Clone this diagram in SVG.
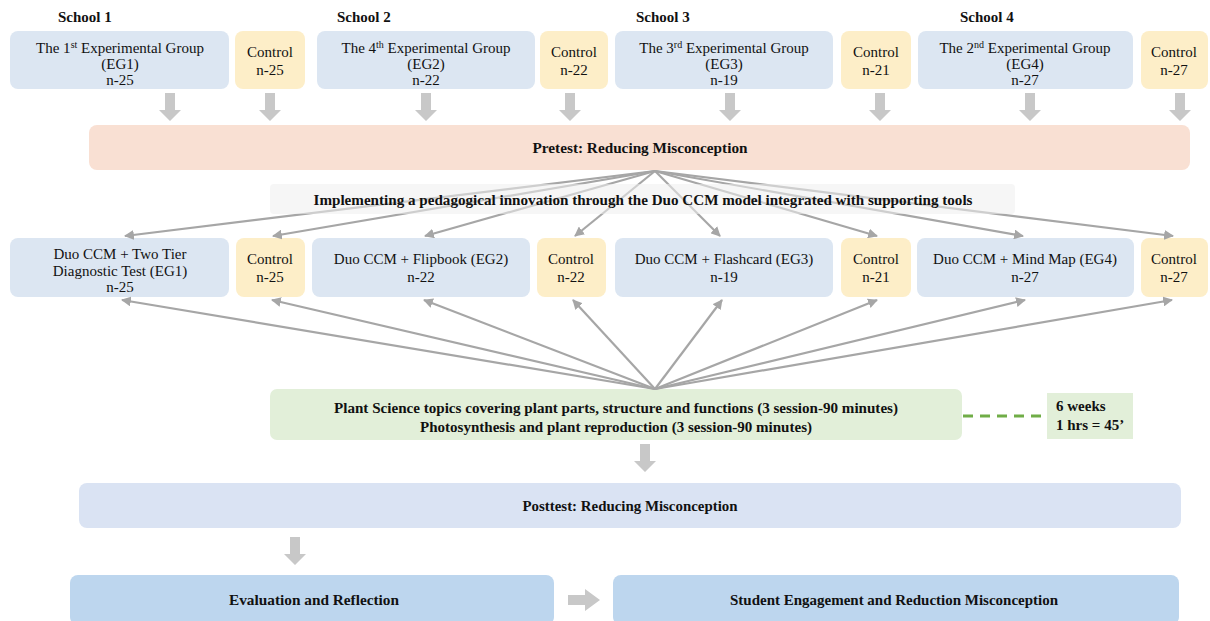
<svg xmlns="http://www.w3.org/2000/svg" width="1210" height="621" viewBox="0 0 1210 621">
<style>
text{font-family:"Liberation Serif","Times New Roman",serif;fill:#111}
.n{font-size:15px}
.b{font-size:14px;font-weight:bold}
.s{font-size:15px;font-weight:bold}
.blue{fill:#dce6f2}
.ctl{fill:#fdeec8}
.fan{stroke:#a6a6a6;stroke-width:2.2;fill:none;marker-end:url(#ah)}
.blk{fill:#c8c8c8}
</style>
<defs>
<marker id="ah" viewBox="0 0 10 10" refX="9" refY="5" markerWidth="4.5" markerHeight="4.5" orient="auto" markerUnits="strokeWidth">
<path d="M0,0 L10,5 L0,10 z" fill="#a6a6a6"/>
</marker>
<path id="dn" d="M-5,0 H5 V17 H11 L0,28 L-11,17 H-5 Z"/>
</defs>
<rect width="1210" height="621" fill="#fff"/>

<g id="schools">
<text class="s" x="58" y="22">School 1</text>
<text class="s" x="337" y="22">School 2</text>
<text class="s" x="636" y="22">School 3</text>
<text class="s" x="960" y="22">School 4</text>
</g>

<g id="top-eg1"><rect class="blue" x="10" y="31" width="219" height="58" rx="8"/>
<text class="n" x="120" y="53" text-anchor="middle">The 1<tspan font-size="10" dy="-5">st</tspan><tspan dy="5"> Experimental Group</tspan></text>
<text class="n" x="120" y="69" text-anchor="middle">(EG1)</text>
<text class="n" x="120" y="85" text-anchor="middle">n-25</text></g>
<g id="top-c1"><rect class="ctl" x="235" y="31" width="70" height="58" rx="8"/>
<text class="n" x="270" y="57" text-anchor="middle">Control</text>
<text class="n" x="270" y="75" text-anchor="middle">n-25</text></g>
<g id="top-eg2"><rect class="blue" x="317" y="31" width="218" height="58" rx="8"/>
<text class="n" x="426" y="53" text-anchor="middle">The 4<tspan font-size="10" dy="-5">th</tspan><tspan dy="5"> Experimental Group</tspan></text>
<text class="n" x="426" y="69" text-anchor="middle">(EG2)</text>
<text class="n" x="426" y="85" text-anchor="middle">n-22</text></g>
<g id="top-c2"><rect class="ctl" x="540" y="31" width="68" height="58" rx="8"/>
<text class="n" x="574" y="57" text-anchor="middle">Control</text>
<text class="n" x="574" y="75" text-anchor="middle">n-22</text></g>
<g id="top-eg3"><rect class="blue" x="615" y="31" width="218" height="58" rx="8"/>
<text class="n" x="724" y="53" text-anchor="middle">The 3<tspan font-size="10" dy="-5">rd</tspan><tspan dy="5"> Experimental Group</tspan></text>
<text class="n" x="724" y="69" text-anchor="middle">(EG3)</text>
<text class="n" x="724" y="85" text-anchor="middle">n-19</text></g>
<g id="top-c3"><rect class="ctl" x="841" y="31" width="70" height="58" rx="8"/>
<text class="n" x="876" y="57" text-anchor="middle">Control</text>
<text class="n" x="876" y="75" text-anchor="middle">n-21</text></g>
<g id="top-eg4"><rect class="blue" x="918" y="31" width="215" height="58" rx="8"/>
<text class="n" x="1025" y="53" text-anchor="middle">The 2<tspan font-size="10" dy="-5">nd</tspan><tspan dy="5"> Experimental Group</tspan></text>
<text class="n" x="1025" y="69" text-anchor="middle">(EG4)</text>
<text class="n" x="1025" y="85" text-anchor="middle">n-27</text></g>
<g id="top-c4"><rect class="ctl" x="1141" y="31" width="67" height="58" rx="8"/>
<text class="n" x="1174" y="57" text-anchor="middle">Control</text>
<text class="n" x="1174" y="75" text-anchor="middle">n-27</text></g>

<g id="pretest"><rect x="89" y="125" width="1101" height="45" rx="8" fill="#f9e0d3"/>
<text class="b" x="640" y="153" text-anchor="middle" textLength="215" lengthAdjust="spacingAndGlyphs">Pretest: Reducing Misconception</text></g>

<g id="r2-eg1"><rect class="blue" x="10" y="238" width="219" height="59" rx="8"/>
<text class="n" x="120" y="259" text-anchor="middle">Duo CCM + Two Tier</text>
<text class="n" x="120" y="276" text-anchor="middle">Diagnostic Test (EG1)</text>
<text class="n" x="120" y="292" text-anchor="middle">n-25</text></g>
<g id="r2-c1"><rect class="ctl" x="236" y="238" width="69" height="59" rx="8"/>
<text class="n" x="270" y="264" text-anchor="middle">Control</text>
<text class="n" x="270" y="282" text-anchor="middle">n-25</text></g>
<g id="r2-eg2"><rect class="blue" x="312" y="238" width="218" height="59" rx="8"/>
<text class="n" x="421" y="264" text-anchor="middle">Duo CCM + Flipbook (EG2)</text>
<text class="n" x="421" y="282" text-anchor="middle">n-22</text></g>
<g id="r2-c2"><rect class="ctl" x="537" y="238" width="69" height="59" rx="8"/>
<text class="n" x="571" y="264" text-anchor="middle">Control</text>
<text class="n" x="571" y="282" text-anchor="middle">n-22</text></g>
<g id="r2-eg3"><rect class="blue" x="615" y="238" width="218" height="59" rx="8"/>
<text class="n" x="724" y="264" text-anchor="middle">Duo CCM + Flashcard (EG3)</text>
<text class="n" x="724" y="282" text-anchor="middle">n-19</text></g>
<g id="r2-c3"><rect class="ctl" x="841" y="238" width="70" height="59" rx="8"/>
<text class="n" x="876" y="264" text-anchor="middle">Control</text>
<text class="n" x="876" y="282" text-anchor="middle">n-21</text></g>
<g id="r2-eg4"><rect class="blue" x="917" y="238" width="217" height="59" rx="8"/>
<text class="n" x="1025" y="264" text-anchor="middle">Duo CCM + Mind Map (EG4)</text>
<text class="n" x="1025" y="282" text-anchor="middle">n-27</text></g>
<g id="r2-c4"><rect class="ctl" x="1141" y="238" width="67" height="59" rx="8"/>
<text class="n" x="1174" y="264" text-anchor="middle">Control</text>
<text class="n" x="1174" y="282" text-anchor="middle">n-27</text></g>

<g id="topics"><rect x="270" y="389" width="692" height="51" rx="7" fill="#e2efd9"/>
<text class="b" x="616" y="413" text-anchor="middle" textLength="564" lengthAdjust="spacingAndGlyphs">Plant Science topics covering plant parts, structure and functions (3 session-90 minutes)</text>
<text class="b" x="616" y="432" text-anchor="middle" textLength="392" lengthAdjust="spacingAndGlyphs">Photosynthesis and plant reproduction (3 session-90 minutes)</text></g>

<g id="duration"><rect x="1047" y="393" width="86" height="46" fill="#e2efd9"/>
<text class="s" x="1056" y="411">6 weeks</text>
<text class="s" x="1056" y="430">1 hrs = 45’</text></g>

<g id="posttest"><rect x="79" y="483" width="1102" height="45" rx="8" fill="#dae3f3"/>
<text class="b" x="630" y="511" text-anchor="middle" textLength="215" lengthAdjust="spacingAndGlyphs">Posttest: Reducing Misconception</text></g>

<g id="evaluation"><rect x="70" y="575" width="484" height="50" rx="8" fill="#bdd6ee"/>
<text class="b" x="314" y="605" text-anchor="middle" textLength="170" lengthAdjust="spacingAndGlyphs">Evaluation and Reflection</text></g>

<g id="engagement"><rect x="613" y="575" width="566" height="50" rx="8" fill="#bdd6ee"/>
<text class="b" x="894" y="605" text-anchor="middle" textLength="328" lengthAdjust="spacingAndGlyphs">Student Engagement and Reduction Misconception</text></g>

<g id="connectors">
<g class="blk">
<use href="#dn" x="170" y="93"/><use href="#dn" x="270" y="93"/><use href="#dn" x="426" y="93"/><use href="#dn" x="570" y="93"/>
<use href="#dn" x="730" y="93"/><use href="#dn" x="880" y="93"/><use href="#dn" x="1030" y="93"/><use href="#dn" x="1180" y="93"/>
<use href="#dn" x="645" y="444"/>
<use href="#dn" x="295" y="537"/>
<path d="M568,595 H585 V589 L600,600 L585,611 V605 H568 Z"/>
</g>
<g class="fan">
<line x1="655" y1="171" x2="125" y2="236"/>
<line x1="655" y1="171" x2="273" y2="236"/>
<line x1="655" y1="171" x2="425" y2="236"/>
<line x1="655" y1="171" x2="575" y2="236"/>
<line x1="655" y1="171" x2="720" y2="236"/>
<line x1="655" y1="171" x2="877" y2="236"/>
<line x1="655" y1="171" x2="1023" y2="236"/>
<line x1="655" y1="171" x2="1173" y2="236"/>
<line x1="655" y1="389" x2="122" y2="300"/>
<line x1="655" y1="389" x2="272" y2="300"/>
<line x1="655" y1="389" x2="424" y2="300"/>
<line x1="655" y1="389" x2="573" y2="300"/>
<line x1="655" y1="389" x2="722" y2="300"/>
<line x1="655" y1="389" x2="877" y2="300"/>
<line x1="655" y1="389" x2="1025" y2="300"/>
<line x1="655" y1="389" x2="1172" y2="300"/>
</g>
<line x1="963" y1="416" x2="1046" y2="416" stroke="#70ad47" stroke-width="3" stroke-dasharray="10,7"/>
</g>

<g id="implementing"><rect x="270" y="184" width="745" height="30" rx="4" fill="#eeeeee" fill-opacity="0.55"/>
<text class="b" x="643" y="205" text-anchor="middle" textLength="659" lengthAdjust="spacingAndGlyphs">Implementing a pedagogical innovation through the Duo CCM model integrated with supporting tools</text></g>
</svg>
